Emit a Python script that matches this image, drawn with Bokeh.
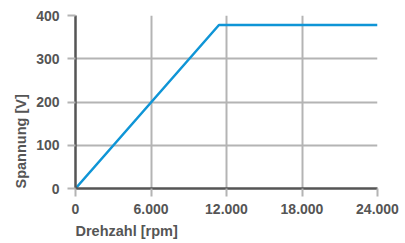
from bokeh.plotting import figure
from bokeh.models import Range1d, FixedTicker, Title
from bokeh.embed import file_html
from bokeh.resources import INLINE

# data
speed_rpm = [0, 11400, 24000]
voltage_v = [0, 378, 378]
x_ticks = [0, 6000, 12000, 18000, 24000]
x_tick_labels = ["0", "6.000", "12.000", "18.000", "24.000"]
y_ticks = [0, 100, 200, 300, 400]
y_tick_labels = ["0", "100", "200", "300", "400"]
x_title = "Drehzahl [rpm]"
y_title = "Spannung [V]"

FONT = "Liberation Sans"
TXT = "#555555"

p = figure(width=405, height=243, output_backend="svg", toolbar_location=None,
           x_range=Range1d(0, 24000), y_range=Range1d(0, 400),
           min_border_left=75, min_border_right=28, min_border_top=15, min_border_bottom=55)
p.outline_line_color = None
p.background_fill_color = "white"
p.border_fill_color = "white"

p.line(speed_rpm, voltage_v, line_color="#0f95d6", line_width=2.5)

for ax, ticks, labels in ((p.xaxis[0], x_ticks, x_tick_labels), (p.yaxis[0], y_ticks, y_tick_labels)):
    ax.ticker = FixedTicker(ticks=ticks)
    ax.major_label_overrides = {t: l for t, l in zip(ticks, labels)}
    ax.axis_line_color = "#555555"
    ax.axis_line_width = 2.5
    ax.major_tick_line_color = "#b4b4b4"
    ax.major_tick_line_width = 2
    ax.major_tick_out = 8
    ax.major_tick_in = 0
    ax.minor_tick_line_color = None
    ax.major_label_text_font = FONT
    ax.major_label_text_font_style = "bold"
    ax.major_label_text_font_size = "14px"
    ax.major_label_text_color = TXT

p.xaxis.major_label_standoff = 7
p.yaxis.major_label_standoff = 8

p.grid.grid_line_color = "#b4b4b4"
p.grid.grid_line_width = 2
p.grid.grid_line_alpha = 1.0

t_kw = dict(text_font=FONT, text_font_style="bold", text_font_size="14.5px",
            text_color=TXT, align="left", offset=0)
p.add_layout(Title(text=x_title, standoff=9, **t_kw), "below")
p.add_layout(Title(text=y_title, standoff=10, **t_kw), "left")

open("out.html", "w").write(file_html(p, INLINE))
